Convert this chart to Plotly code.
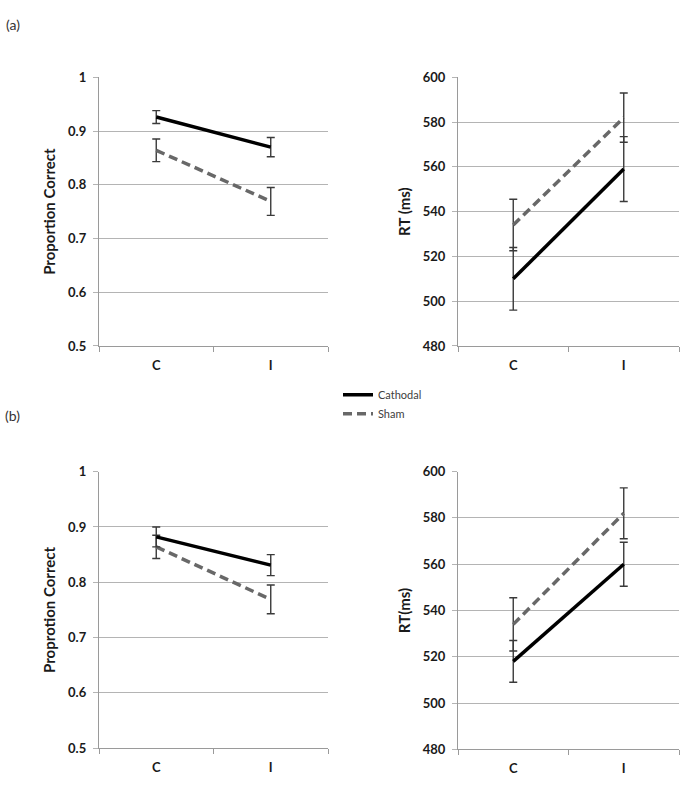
import plotly.graph_objects as go

conditions = ["C", "I"]
series_names = ["Cathodal", "Sham"]

# (a) Proportion correct
a_acc_cathodal = [0.926, 0.870]
a_acc_cathodal_err = [0.012, 0.018]
a_acc_sham = [0.864, 0.769]
a_acc_sham_err = [0.021, 0.026]

# (a) RT
a_rt_cathodal = [510, 559]
a_rt_cathodal_err = [14, 14.5]
a_rt_sham = [534, 582]
a_rt_sham_err = [11.5, 11]

# (b) Proportion correct
b_acc_cathodal = [0.882, 0.831]
b_acc_cathodal_err = [0.018, 0.019]
b_acc_sham = [0.864, 0.769]
b_acc_sham_err = [0.021, 0.026]

# (b) RT
b_rt_cathodal = [518, 560]
b_rt_cathodal_err = [9, 9.5]
b_rt_sham = [534, 582]
b_rt_sham_err = [11.5, 11]

acc_ticks = [0.5, 0.6, 0.7, 0.8, 0.9, 1]
rt_ticks = [480, 500, 520, 540, 560, 580, 600]

W, H = 688, 786
FONT = "Lato"
GRID = "#b4b4b4"
ERR = "#3a3a3a"
CATH_COLOR = "#000000"
SHAM_COLOR = "#686868"

fig = go.Figure()

panels = [
    ("x", "y", a_acc_cathodal, a_acc_cathodal_err, a_acc_sham, a_acc_sham_err, True),
    ("x2", "y2", a_rt_cathodal, a_rt_cathodal_err, a_rt_sham, a_rt_sham_err, False),
    ("x3", "y3", b_acc_cathodal, b_acc_cathodal_err, b_acc_sham, b_acc_sham_err, False),
    ("x4", "y4", b_rt_cathodal, b_rt_cathodal_err, b_rt_sham, b_rt_sham_err, False),
]

for xa, ya, cv, ce, sv, se, sl in panels:
    fig.add_trace(go.Scatter(
        x=conditions, y=sv, mode="lines", name=series_names[1],
        xaxis=xa, yaxis=ya, showlegend=sl, legendgroup="sham", legendrank=2,
        line=dict(color=SHAM_COLOR, width=3.5, dash="9px,5px"),
        error_y=dict(type="data", array=se, visible=True, color=ERR, thickness=1.4, width=4),
    ))
    fig.add_trace(go.Scatter(
        x=conditions, y=cv, mode="lines", name=series_names[0],
        xaxis=xa, yaxis=ya, showlegend=sl, legendgroup="cath", legendrank=1,
        line=dict(color=CATH_COLOR, width=3.5),
        error_y=dict(type="data", array=ce, visible=True, color=ERR, thickness=1.4, width=4),
    ))

def px_x(a, b):
    return [a / W, b / W]

def px_y(top, bottom):
    return [1 - bottom / H, 1 - top / H]

tickfont = dict(family=FONT, size=13, color="#1a1a1a", weight="bold")
titlefont = dict(family=FONT, size=15, color="#1a1a1a", weight="bold")

def xaxis_cfg(domain, anchor):
    return dict(
        domain=domain, anchor=anchor, type="category", range=[-0.5, 1.5],
        tickson="boundaries", ticks="outside", ticklen=5, tickcolor="#9a9a9a", tickwidth=1.3,
        showline=True, linecolor="#9a9a9a", linewidth=1.3, showgrid=False, zeroline=False,
        tickfont=tickfont, ticklabelstandoff=7, fixedrange=True,
    )

def yaxis_cfg(domain, anchor, rng, tv, title):
    return dict(
        domain=domain, anchor=anchor, range=rng, tickvals=tv,
        ticks="outside", ticklen=5, tickcolor=GRID, tickwidth=1.3,
        showline=True, linecolor="#9a9a9a", linewidth=1.3,
        showgrid=True, gridcolor=GRID, gridwidth=1.3, zeroline=False,
        tickfont=tickfont, title=dict(text=title, font=titlefont, standoff=8),
        ticklabelstandoff=4, fixedrange=True,
    )

fig.update_layout(
    width=W, height=H,
    margin=dict(l=0, r=0, t=0, b=0),
    paper_bgcolor="white", plot_bgcolor="white",
    font=dict(family=FONT, color="#1a1a1a"),
    xaxis=xaxis_cfg(px_x(99, 328), "y"),
    yaxis=yaxis_cfg(px_y(70.7, 345), "x", [0.5, 1.0], acc_ticks, "Proportion Correct"),
    xaxis2=xaxis_cfg(px_x(458, 679), "y2"),
    yaxis2=yaxis_cfg(px_y(70.7, 345), "x2", [480, 600], rt_ticks, "RT (ms)"),
    xaxis3=xaxis_cfg(px_x(99, 328), "y3"),
    yaxis3=yaxis_cfg(px_y(473.3, 755.5), "x3", [0.5, 1.0], acc_ticks, "Proprotion Correct"),
    xaxis4=xaxis_cfg(px_x(458, 679), "y4"),
    yaxis4=yaxis_cfg(px_y(473.3, 756.7), "x4", [480, 600], rt_ticks, "RT(ms)"),
    legend=dict(
        x=338 / W, y=1 - 380 / H, xanchor="left", yanchor="top",
        font=dict(family=FONT, size=11, color="#404040"),
        bgcolor="rgba(0,0,0,0)", tracegroupgap=8, itemwidth=30,
        traceorder="normal",
    ),
    showlegend=True,
    annotations=[
        dict(text="(a)", x=4 / W, y=1 - 6 / H, xref="paper", yref="paper",
             xanchor="left", yanchor="top", showarrow=False,
             font=dict(family=FONT, size=14, color="#333333")),
        dict(text="(b)", x=3 / W, y=1 - 405 / H, xref="paper", yref="paper",
             xanchor="left", yanchor="top", showarrow=False,
             font=dict(family=FONT, size=14, color="#333333")),
    ],
)

fig.write_html(
    "out.html",
    config={"displayModeBar": False},
    post_script="document.body.style.margin='0px';document.body.style.overflow='hidden';",
)
